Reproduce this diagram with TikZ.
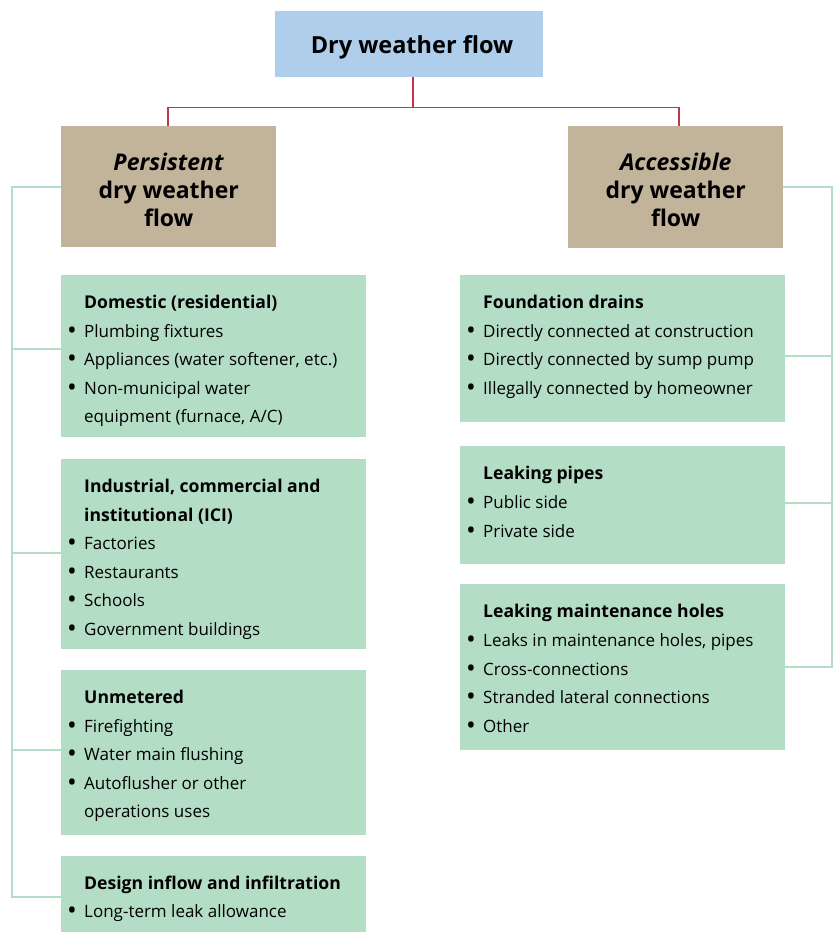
\documentclass[tikz,border=0pt]{standalone}
\usepackage{fontspec}
\setmainfont{Open Sans}
\usetikzlibrary{calc}
\definecolor{topblue}{RGB}{174,206,236}
\definecolor{tanbox}{RGB}{194,180,155}
\definecolor{boxgreen}{RGB}{179,221,196}
\definecolor{linegreen}{RGB}{179,221,196}
\definecolor{linered}{RGB}{200,50,70}
\tikzset{
  box/.style={fill=#1, draw=none, anchor=north west, inner sep=0pt},
  bigtxt/.style={inner sep=0pt, font=\fontsize{23}{28}\selectfont\bfseries, align=center},
  hd/.style={anchor=base west, inner sep=0pt, font=\fontsize{17.6}{18}\selectfont\bfseries},
  it/.style={anchor=base west, inner sep=0pt, font=\fontsize{17}{18}\selectfont},
  bul/.style={anchor=base west, inner sep=0pt, font=\fontsize{26}{18}\selectfont},
  redline/.style={draw=linered, line width=1.5pt},
  grline/.style={draw=linegreen, line width=1.2pt}
}
\newcommand\bitem[4]{\node[bul] (#1b) at (#2-17,#3) {\raisebox{-2.5pt}{•}}; \node[it] (#1) at (#2,#3) {#4};}
\begin{document}
\begin{tikzpicture}[x=1pt,y=-1pt]
\useasboundingbox (0,0) rectangle (833,933);
% top
\node[box=topblue, minimum width=268pt, minimum height=66pt] (top) at (275,11) {};
\node[bigtxt, font=\fontsize{23.5}{28}\selectfont\bfseries, anchor=base] (topt) at (412,54) {Dry weather flow};
\node[box=tanbox, minimum width=215pt, minimum height=121pt] (pers) at (61,126) {};
\node[box=tanbox, minimum width=215pt, minimum height=122pt] (acc) at (568,126) {};
\node[bigtxt] (perst) at ($(pers.center)+(0,3.5)$) {\textit{Persistent}\\dry weather\\flow};
\node[bigtxt] (acct) at ($(acc.center)+(0,3)$) {\textit{Accessible}\\dry weather\\flow};
% red connectors
\coordinate (stem) at ($(top.south)+(4,0)$);
\coordinate (bus) at ($(stem)+(0,30)$);
\draw[redline] (stem) -- (bus);
\draw[redline] (bus) -| ($(pers.north)+(-0.5,0)$);
\draw[redline] (bus) -| ($(acc.north)+(3.5,0)$);
% left boxes
\node[box=boxgreen, minimum width=305pt, minimum height=162pt] (dom) at (61,275) {};
\node[box=boxgreen, minimum width=305pt, minimum height=190pt] (ici) at (61,459) {};
\node[box=boxgreen, minimum width=305pt, minimum height=165pt] (unm) at (61,670) {};
\node[box=boxgreen, minimum width=305pt, minimum height=76pt] (des) at (61,856) {};
% right boxes
\node[box=boxgreen, minimum width=325pt, minimum height=147pt] (fnd) at (460,275) {};
\node[box=boxgreen, minimum width=325pt, minimum height=118pt] (pip) at (460,446) {};
\node[box=boxgreen, minimum width=325pt, minimum height=166pt] (mnt) at (460,584) {};
% green connectors left
\coordinate (lb0) at (12,187);
\coordinate (lb1) at (12,349);
\coordinate (lb2) at (12,553);
\coordinate (lb3) at (12,750);
\coordinate (lb4) at (12,897);
\draw[grline] (pers.west |- lb0) -- (lb0) -- (lb4) -- (des.west |- lb4);
\draw[grline] (lb1) -- (dom.west |- lb1);
\draw[grline] (lb2) -- (ici.west |- lb2);
\draw[grline] (lb3) -- (unm.west |- lb3);
% green connectors right
\coordinate (rb0) at (832,187);
\coordinate (rb1) at (832,356);
\coordinate (rb2) at (832,503);
\coordinate (rb3) at (832,667);
\draw[grline] (acc.east |- rb0) -- (rb0) -- (rb3) -- (mnt.east |- rb3);
\draw[grline] (rb1) -- (fnd.east |- rb1);
\draw[grline] (rb2) -- (pip.east |- rb2);
% domestic text
\node[hd] (domh) at (84,308) {Domestic (residential)};
\bitem{dom1}{84}{337}{Plumbing fixtures}
\bitem{dom2}{84}{365}{Appliances (water softener, etc.)}
\bitem{dom3}{84}{394}{Non-municipal water}
\node[it] (dom4) at (84,422) {equipment (furnace, A/C)};
% ici text
\node[hd] (icih1) at (84,492) {Industrial, commercial and};
\node[hd] (icih2) at (84,521) {institutional (ICI)};
\bitem{ici1}{84}{549}{Factories}
\bitem{ici2}{84}{578}{Restaurants}
\bitem{ici3}{84}{606}{Schools}
\bitem{ici4}{84}{635}{Government buildings}
% unmetered
\node[hd] (unmh) at (84,703) {Unmetered};
\bitem{unm1}{84}{732}{Firefighting}
\bitem{unm2}{84}{760}{Water main flushing}
\bitem{unm3}{84}{789}{Autoflusher or other}
\node[it] (unm4) at (84,817) {operations uses};
% design
\node[hd] (desh) at (84,889) {Design inflow and infiltration};
\bitem{des1}{84}{917}{Long-term leak allowance}
% foundation
\node[hd] (fndh) at (483,308) {Foundation drains};
\bitem{fnd1}{483}{337}{Directly connected at construction}
\bitem{fnd2}{483}{365}{Directly connected by sump pump}
\bitem{fnd3}{483}{394}{Illegally connected by homeowner}
% pipes
\node[hd] (piph) at (483,479) {Leaking pipes};
\bitem{pip1}{483}{508}{Public side}
\bitem{pip2}{483}{537}{Private side}
% maintenance
\node[hd] (mnth) at (483,617) {Leaking maintenance holes};
\bitem{mnt1}{483}{646}{Leaks in maintenance holes, pipes}
\bitem{mnt2}{483}{675}{Cross-connections}
\bitem{mnt3}{483}{703}{Stranded lateral connections}
\bitem{mnt4}{483}{732}{Other}
\end{tikzpicture}
\end{document}
